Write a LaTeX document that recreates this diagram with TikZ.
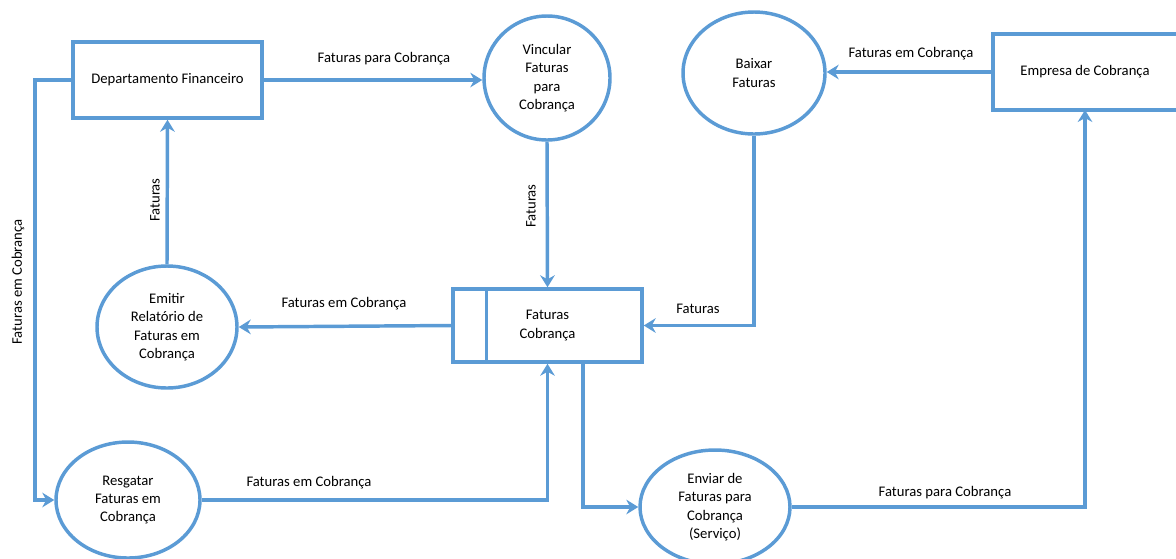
\documentclass[tikz,border=0pt]{standalone}
\usepackage{fontspec}
\setmainfont{Carlito}
\usetikzlibrary{arrows.meta,shapes.geometric}

\definecolor{flowblue}{RGB}{91,155,213}

\tikzset{every picture/.style={line width=2.6pt}}
\tikzset{
  entity/.style={draw=flowblue, rectangle, inner sep=0pt},
  proc/.style={draw=flowblue, ellipse, inner sep=0pt, align=center},
  flow/.style={draw=flowblue, -{Stealth[length=9pt,width=11pt,inset=3pt]}},
  lbl/.style={inner sep=0.75pt}
}

\begin{document}
\begin{tikzpicture}[x=0.75pt,y=0.75pt,yscale=-1,xscale=1,font=\fontsize{11}{13.8}\selectfont]

\useasboundingbox (0,0) rectangle (1176,558);

% entities
\node [entity, minimum width=141.75pt, minimum height=57pt] (dept) at (167.5,80) {Departamento Financeiro};
\node [entity, minimum width=144pt, minimum height=57pt] (emp) at (1089,72) {\hspace*{-6pt}Empresa de Cobrança};

% processes
\node [proc, minimum width=94.5pt, minimum height=93pt] (vinc) at (547,78) {Vincular\\Faturas\\para\\Cobrança};
\node [proc, minimum width=106.5pt, minimum height=91.5pt] (baix) at (754,73) {Baixar\\Faturas};
\node [proc, minimum width=105pt, minimum height=91.5pt] (emit) at (167,327) {Emitir\\Relatório de\\Faturas em\\Cobrança};
\node [proc, minimum width=108pt, minimum height=87pt] (resg) at (128,500) {Resgatar\\Faturas em\\Cobrança};
\node [proc, minimum width=112.5pt, minimum height=85.5pt] (envi) at (715,507) {Enviar de\\Faturas para\\Cobrança\\(Serviço)};

% data store
\node [entity, minimum width=141.75pt, minimum height=54.75pt, align=center] (store) at (547.5,325.5) {Faturas\\Cobrança};
\draw [flowblue] ([xshift=26.25pt]store.north west) -- ([xshift=26.25pt]store.south west);

\coordinate (leftbend) at (35,80);
\coordinate (storeout) at (583,362);
\coordinate (empin) at (1085,110);

% flows
\draw [flow] (dept.east) -- (dept.east -| vinc.west);
\draw [flow] (vinc.south) -- (store.north);
\draw [flow] (baix.south) |- (store.east);
\draw [flow] (emp.west) -- (emp.west -| baix.east);
\draw [flow] (store.west) -- (emit.east);
\draw [flow] (emit.north) -- (dept.south);
\draw [flow] (dept.west) -- (dept.west -| leftbend) |- (resg.west);
\draw [flow] (resg.east) -| (store.south);
\draw [flow] (storeout) |- (envi.west);
\draw [flow] (envi.east) -| (empin);

% labels
\node [lbl] (l1) at (384,59) {Faturas para Cobrança};
\node [lbl, rotate=90] (l2) at (531,206) {Faturas};
\node [lbl] (l3) at (911,54) {Faturas em Cobrança};
\node [lbl] (l4) at (698,309) {Faturas};
\node [lbl] (l5) at (344,304) {Faturas em Cobrança};
\node [lbl, rotate=90] (l6) at (155,200) {Faturas};
\node [lbl, rotate=90] (l7) at (18,282) {Faturas em Cobrança};
\node [lbl] (l8) at (309,483) {Faturas em Cobrança};
\node [lbl] (l9) at (945,493) {Faturas para Cobrança};

\end{tikzpicture}
\end{document}
